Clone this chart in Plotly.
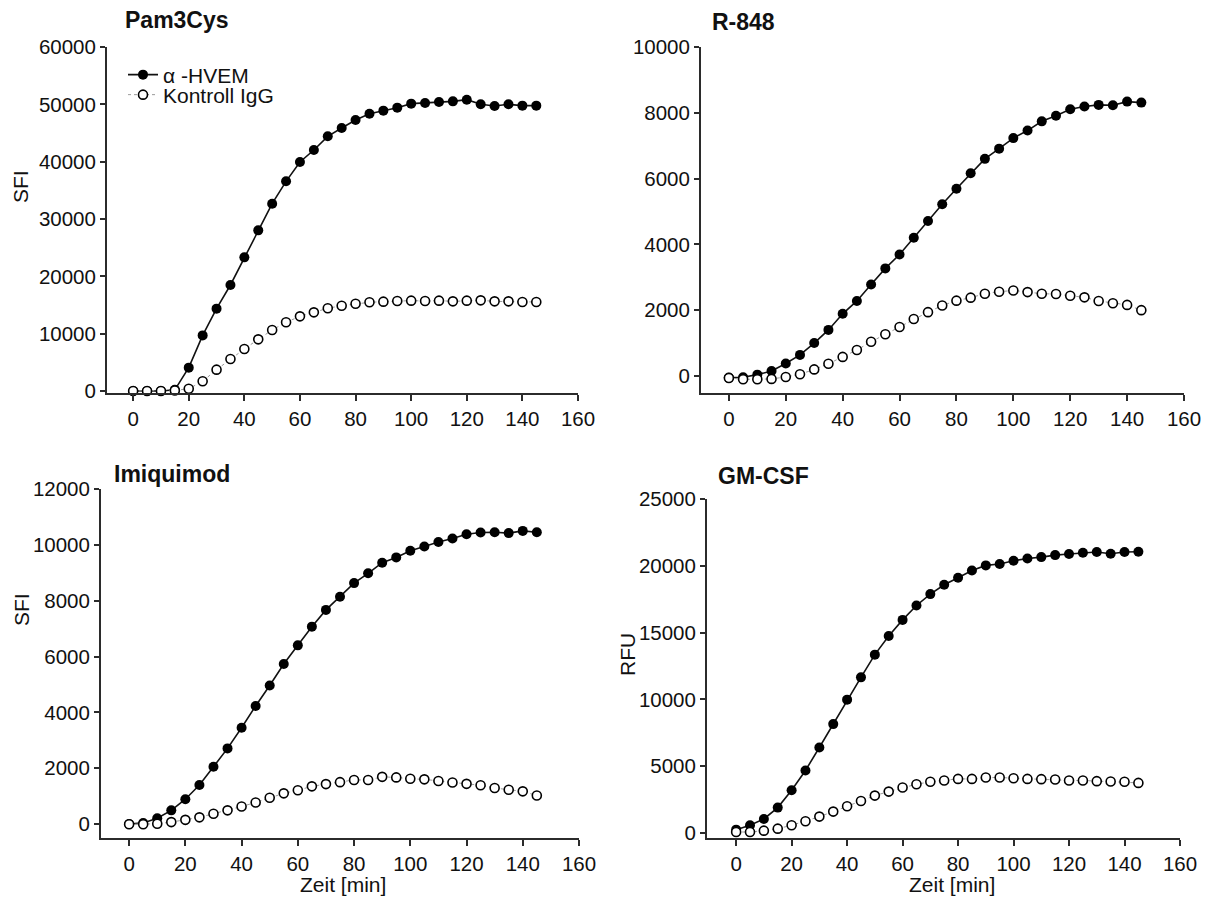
import plotly.graph_objects as go

time_min = [0, 5, 10, 15, 20, 25, 30, 35, 40, 45, 50, 55, 60, 65, 70, 75, 80, 85, 90, 95,
            100, 105, 110, 115, 120, 125, 130, 135, 140, 145]

pam3cys_hvem = [0, 0, 0, 200, 4070, 9700, 14360, 18490, 23310, 28020, 32670, 36570, 39940, 42030,
                44420, 45870, 47270, 48370, 48900, 49420, 50120, 50230, 50410, 50520, 50810,
                50000, 49710, 50000, 49770, 49770]
pam3cys_igg = [0, 0, 0, 100, 400, 1690, 3720, 5580, 7330, 9010, 10640, 11980, 13020, 13720,
               14420, 14880, 15230, 15470, 15580, 15700, 15760, 15700, 15760, 15640, 15760,
               15810, 15640, 15640, 15520, 15520]

r848_hvem = [-50, -40, 40, 150, 380, 640, 1000, 1400, 1890, 2280, 2780, 3270, 3690, 4200, 4710,
             5220, 5690, 6160, 6600, 6910, 7230, 7460, 7740, 7910, 8110, 8190, 8240, 8230, 8340, 8310]
r848_igg = [-60, -100, -100, -90, -30, 50, 200, 370, 580, 790, 1040, 1270, 1490, 1730, 1940,
            2140, 2290, 2380, 2500, 2560, 2600, 2550, 2500, 2490, 2440, 2390, 2280, 2210, 2160, 2000]

imiq_hvem = [0, 40, 210, 490, 890, 1400, 2050, 2710, 3450, 4230, 4960, 5730, 6400, 7070, 7670,
             8140, 8630, 8980, 9360, 9550, 9790, 9940, 10100, 10230, 10380, 10440, 10450, 10420,
             10500, 10450]
imiq_igg = [-10, -10, 10, 70, 150, 240, 370, 490, 630, 770, 940, 1100, 1210, 1350, 1430, 1500,
            1580, 1580, 1690, 1670, 1620, 1600, 1540, 1490, 1440, 1390, 1290, 1230, 1170, 1020]

gmcsf_hvem = [250, 575, 1050, 1900, 3200, 4680, 6400, 8150, 9980, 11650, 13350, 14750, 15950,
              17030, 17880, 18580, 19100, 19650, 20030, 20130, 20380, 20550, 20650, 20800, 20880,
              20980, 21030, 20900, 21030, 21050]
gmcsf_igg = [75, 75, 175, 325, 575, 875, 1225, 1600, 2000, 2400, 2800, 3100, 3400, 3650, 3830,
             3930, 4050, 4050, 4150, 4150, 4100, 4050, 4030, 4000, 3930, 3930, 3880, 3850, 3830, 3750]

panel_titles = ["Pam3Cys", "R-848", "Imiquimod", "GM-CSF"]
series_names = ["α -HVEM", "Kontroll IgG"]
x_ticks = [0, 20, 40, 60, 80, 100, 120, 140, 160]
y_ticks = [
    [0, 10000, 20000, 30000, 40000, 50000, 60000],
    [0, 2000, 4000, 6000, 8000, 10000],
    [0, 2000, 4000, 6000, 8000, 10000, 12000],
    [0, 5000, 10000, 15000, 20000, 25000],
]
y_titles = ["SFI", "", "SFI", "RFU"]
x_title = "Zeit [min]"

W, H = 1217, 899
FONT = "Liberation Sans, Arial, sans-serif"
AX = "#2b2b2b"
TICK_SIZE = 20.5
PAGE_OFFSET = 8  # default body margin of the html page

def px_x(p):
    return (p - PAGE_OFFSET) / W

def px_y(p):
    return (H - (p - PAGE_OFFSET)) / H

# pixel boxes: left, right, top, bottom
boxes = [(107, 578, 47, 393), (701, 1184, 47, 393), (101, 579, 489, 838), (707, 1180, 499, 838)]
y_ranges = [[-350, 60000], [-518, 10000], [-500, 12000], [-375, 25000]]
x_ranges = [[-9.4, 160], [-9.8, 160], [-10, 160], [-10.5, 160]]

data = [(pam3cys_hvem, pam3cys_igg), (r848_hvem, r848_igg), (imiq_hvem, imiq_igg), (gmcsf_hvem, gmcsf_igg)]

fig = go.Figure()
layout = dict(width=W, height=H, margin=dict(l=0, r=0, t=0, b=0, autoexpand=False),
              paper_bgcolor="white", plot_bgcolor="white",
              font=dict(family=FONT, size=TICK_SIZE, color="#111"))

for i, (hv, ig) in enumerate(data):
    n = "" if i == 0 else str(i + 1)
    xa, ya = "x" + n, "y" + n
    fig.add_trace(go.Scatter(x=time_min, y=hv, mode="lines+markers", name=series_names[0],
                             xaxis=xa, yaxis=ya, showlegend=(i == 0), legend="legend",
                             line=dict(color="#111", width=1.6),
                             marker=dict(symbol="circle", size=10, color="black"),
                             cliponaxis=False))
    fig.add_trace(go.Scatter(x=time_min, y=ig, mode="lines+markers", name=series_names[1],
                             xaxis=xa, yaxis=ya, showlegend=(i == 0), legend="legend2",
                             line=dict(color="#9a9a9a", width=1, dash="dot"),
                             marker=dict(symbol="circle", size=9, color="white",
                                         line=dict(color="black", width=1.6)),
                             cliponaxis=False))
    l, r, t, b = boxes[i]
    layout["xaxis" + n] = dict(domain=[px_x(l), px_x(r)], range=x_ranges[i], anchor=ya,
                               showline=True, linecolor=AX, linewidth=2, showgrid=False,
                               zeroline=False, ticks="outside", ticklen=6, tickwidth=1.5,
                               tickcolor=AX, tickvals=x_ticks, tickfont=dict(size=TICK_SIZE),
                               fixedrange=True, automargin=False)
    layout["yaxis" + n] = dict(domain=[px_y(b), px_y(t)], range=y_ranges[i], anchor=xa,
                               showline=True, linecolor=AX, linewidth=2, showgrid=False,
                               zeroline=False, ticks="outside", ticklen=5, tickwidth=1.5,
                               tickcolor=AX, tickvals=y_ticks[i], tickformat="d",
                               tickfont=dict(size=TICK_SIZE), fixedrange=True, automargin=False)

annotations = []
title_pos = [(123, 20), (710, 22), (112, 474), (716, 476)]
for (x, y), txt in zip(title_pos, panel_titles):
    annotations.append(dict(text="<b>%s</b>" % txt, x=px_x(x), y=px_y(y), xref="paper", yref="paper",
                            xanchor="left", yanchor="middle", showarrow=False,
                            font=dict(size=23, family=FONT, color="#111")))
ytitle_pos = [(21, 187), None, (21, 610), (628, 655)]
for pos, txt in zip(ytitle_pos, y_titles):
    if pos and txt:
        annotations.append(dict(text=txt, x=px_x(pos[0]), y=px_y(pos[1]), xref="paper", yref="paper",
                                xanchor="center", yanchor="middle", showarrow=False, textangle=-90,
                                font=dict(size=21, family=FONT, color="#111")))
for xc in (343, 952):
    annotations.append(dict(text=x_title, x=px_x(xc), y=px_y(884), xref="paper", yref="paper",
                            xanchor="center", yanchor="middle", showarrow=False,
                            font=dict(size=21, family=FONT, color="#111")))
layout["annotations"] = annotations
leg_common = dict(xanchor="left", yanchor="middle", bgcolor="rgba(0,0,0,0)",
                  font=dict(size=21, family=FONT, color="#111"), itemwidth=30,
                  borderwidth=0)
layout["legend"] = dict(x=px_x(123), y=px_y(75), **leg_common)
layout["legend2"] = dict(x=px_x(123), y=px_y(95), **leg_common)
fig.update_layout(**layout)
fig.write_html("out.html")
